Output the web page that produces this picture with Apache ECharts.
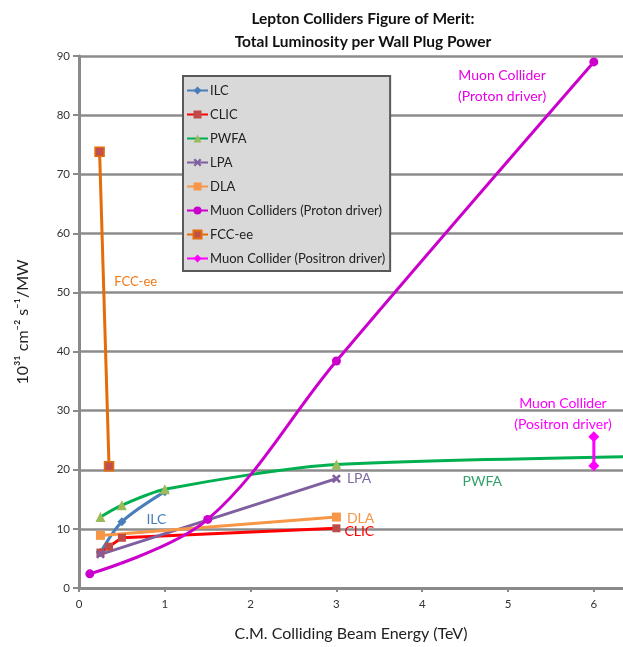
<!DOCTYPE html>
<html>
<head>
<meta charset="utf-8">
<script src="https://cdn.jsdelivr.net/npm/echarts@6/dist/echarts.min.js"></script>
<style>
  html, body { margin: 0; padding: 0; background: #fff; }
  #chart { width: 623px; height: 647px; }
</style>
</head>
<body>
<div id="chart"></div>
<script>
// Centre-of-mass energy (TeV) and luminosity per wall-plug power (1e31 cm^-2 s^-1 / MW)
const ilcEnergy = [0.25, 0.5, 1.0];
const ilcLum = [6.0, 11.2, 16.3];

const clicEnergy = [0.25, 0.35, 0.5, 3.0];
const clicLum = [6.0, 7.0, 8.5, 10.1];

const pwfaEnergy = [0.25, 0.5, 1.0, 3.0, 10.0];
const pwfaLum = [12.0, 14.0, 16.7, 20.9, 23.0];

const lpaEnergy = [0.25, 3.0];
const lpaLum = [5.7, 18.5];

const dlaEnergy = [0.25, 3.0];
const dlaLum = [8.9, 12.0];

const muonProtonEnergy = [0.126, 1.5, 3.0, 6.0];
const muonProtonLum = [2.4, 11.6, 38.4, 89.0];

const fccEnergy = [0.24, 0.35];
const fccLum = [73.8, 20.6];

const muonPositronEnergy = [6.0, 6.0];
const muonPositronLum = [20.7, 25.6];

const seriesNames = [
  'ILC', 'CLIC', 'PWFA', 'LPA', 'DLA',
  'Muon Colliders (Proton driver)', 'FCC-ee', 'Muon Collider (Positron driver)'
];

const xTicks = [0, 1, 2, 3, 4, 5, 6];
const yTicks = [0, 10, 20, 30, 40, 50, 60, 70, 80, 90];

const FONT = 'Lato, "Open Sans", sans-serif';

function pairs(xs, ys) {
  return xs.map((x, i) => [x, ys[i]]);
}

// Tag the last point of a series with a text label placed beside it
function withEndLabel(data, text, color, offset) {
  const out = data.slice();
  const last = out.length - 1;
  out[last] = {
    value: out[last],
    label: {
      show: true, position: 'right', distance: 6, offset: offset || [0, 0],
      formatter: text, color: color, fontFamily: FONT, fontSize: 14
    }
  };
  return out;
}

// Free-standing text tied to a data coordinate
function textMark(coord, text, color, size) {
  return {
    silent: true,
    symbol: 'circle',
    symbolSize: 0,
    data: [{
      coord: coord,
      label: {
        show: true, position: 'inside', formatter: text, color: color,
        fontFamily: FONT, fontSize: size || 14, lineHeight: 21, align: 'center'
      }
    }]
  };
}

const xPath = 'path://M2,0 L5,3 L8,0 L10,2 L7,5 L10,8 L8,10 L5,7 L2,10 L0,8 L3,5 L0,2 Z';

const ilcData = pairs(ilcEnergy, ilcLum);
ilcData[1] = {
  value: ilcData[1],
  label: { show: true, position: 'right', distance: 20, offset: [0, -2], formatter: 'ILC',
           color: '#4a7ebb', fontFamily: FONT, fontSize: 14 }
};

const pwfaData = pairs(pwfaEnergy, pwfaLum);
pwfaData[4] = { value: pwfaData[4], symbol: 'none' };

const option = {
  animation: false,
  backgroundColor: '#ffffff',
  title: {
    text: 'Lepton Colliders Figure of Merit:\nTotal Luminosity per Wall Plug Power',
    left: 358,
    top: 2,
    textAlign: 'center',
    textStyle: { fontFamily: FONT, fontWeight: 'bold', fontSize: 15.5, lineHeight: 23, color: '#111' }
  },
  legend: {
    data: seriesNames,
    orient: 'vertical',
    left: 183,
    top: 76,
    backgroundColor: '#d9d9d9',
    borderColor: '#595959',
    borderWidth: 2,
    borderRadius: 0,
    padding: [8, 5, 6, 3],
    itemWidth: 21,
    itemHeight: 10,
    itemGap: 11,
    textStyle: { fontFamily: FONT, fontSize: 13, color: '#222', padding: [0, 0, 0, -3] }
  },
  grid: { left: 79, right: 0, top: 56, bottom: 57, containLabel: false },
  xAxis: {
    type: 'value',
    min: 0,
    max: 6.34,
    interval: 1,
    name: 'C.M. Colliding Beam Energy (TeV)',
    nameLocation: 'middle',
    nameGap: 38,
    nameTextStyle: { fontFamily: FONT, fontSize: 16, color: '#222' },
    axisLine: { show: true, onZero: false, lineStyle: { color: '#8a8a8a', width: 3 } },
    axisTick: { show: true, length: 4, inside: false, lineStyle: { color: '#8a8a8a', width: 2 } },
    axisLabel: {
      showMaxLabel: false, margin: 10, fontFamily: FONT, fontSize: 11.5, color: '#333',
      formatter: v => (xTicks.includes(v) ? String(v) : '')
    },
    splitLine: { show: false }
  },
  yAxis: {
    type: 'value',
    min: 0,
    max: 90,
    interval: 10,
    name: '10\u00B3\u00B9 cm\u207B\u00B2 s\u207B\u00B9/MW',
    nameLocation: 'middle',
    nameGap: 48,
    nameTextStyle: { fontFamily: FONT, fontSize: 16, color: '#222' },
    axisLine: { show: true, lineStyle: { color: '#8a8a8a', width: 3 } },
    axisTick: { show: true, length: 6, lineStyle: { color: '#8a8a8a', width: 2 } },
    axisLabel: {
      margin: 9, fontFamily: FONT, fontSize: 11.5, color: '#333',
      formatter: v => (yTicks.includes(v) ? String(v) : '')
    },
    splitLine: { show: true, lineStyle: { color: '#8c8c8c', width: 2.5 } }
  },
  series: [
    {
      name: 'ILC', type: 'line', smooth: 0.3,
      data: ilcData,
      symbol: 'diamond', symbolSize: 9,
      lineStyle: { color: '#4a7ebb', width: 3 },
      itemStyle: { color: '#4a7ebb' }
    },
    {
      name: 'CLIC', type: 'line',
      data: withEndLabel(pairs(clicEnergy, clicLum), 'CLIC', '#ff0000', [-2, 3]),
      symbol: 'rect', symbolSize: 8,
      lineStyle: { color: '#ff0000', width: 3 },
      itemStyle: { color: '#be4b48' }
    },
    {
      name: 'PWFA', type: 'line', smooth: 0.25,
      data: pwfaData,
      symbol: 'triangle', symbolSize: 10,
      lineStyle: { color: '#00b050', width: 3 },
      itemStyle: { color: '#9bbb59' },
      markPoint: textMark([4.7, 18.0], 'PWFA', '#33a06a', 14)
    },
    {
      name: 'LPA', type: 'line',
      data: withEndLabel(pairs(lpaEnergy, lpaLum), 'LPA', '#7f6aa6', [0, 0]),
      symbol: xPath, symbolSize: 9,
      lineStyle: { color: '#7f5f9f', width: 3 },
      itemStyle: { color: '#7f5f9f' }
    },
    {
      name: 'DLA', type: 'line',
      data: withEndLabel(pairs(dlaEnergy, dlaLum), 'DLA', '#f79646', [0, 1]),
      symbol: 'rect', symbolSize: 9,
      lineStyle: { color: '#f79646', width: 3 },
      itemStyle: { color: '#f79646' }
    },
    {
      name: 'Muon Colliders (Proton driver)', type: 'line', smooth: 0.35,
      data: pairs(muonProtonEnergy, muonProtonLum),
      symbol: 'circle', symbolSize: 9,
      lineStyle: { color: '#cc00cc', width: 3 },
      itemStyle: { color: '#cc00cc' },
      markPoint: textMark([4.93, 84.9], 'Muon Collider\n(Proton driver)', '#e600e6', 14)
    },
    {
      name: 'FCC-ee', type: 'line',
      data: pairs(fccEnergy, fccLum),
      symbol: 'rect', symbolSize: 9,
      lineStyle: { color: '#e46c0a', width: 3 },
      itemStyle: { color: '#c0504d', borderColor: '#e46c0a', borderWidth: 1.5 },
      markPoint: textMark([0.66, 51.8], 'FCC-ee', '#f07a1a', 13)
    },
    {
      name: 'Muon Collider (Positron driver)', type: 'line',
      data: pairs(muonPositronEnergy, muonPositronLum),
      symbol: 'diamond', symbolSize: 11,
      lineStyle: { color: '#ff00ff', width: 3 },
      itemStyle: { color: '#ff00ff' },
      markPoint: textMark([5.64, 29.5], 'Muon Collider\n(Positron driver)', '#ff00ff', 14)
    }
  ]
};

const chart = echarts.init(document.getElementById('chart'), null, { renderer: 'canvas' });
chart.setOption(option);
</script>
</body>
</html>
